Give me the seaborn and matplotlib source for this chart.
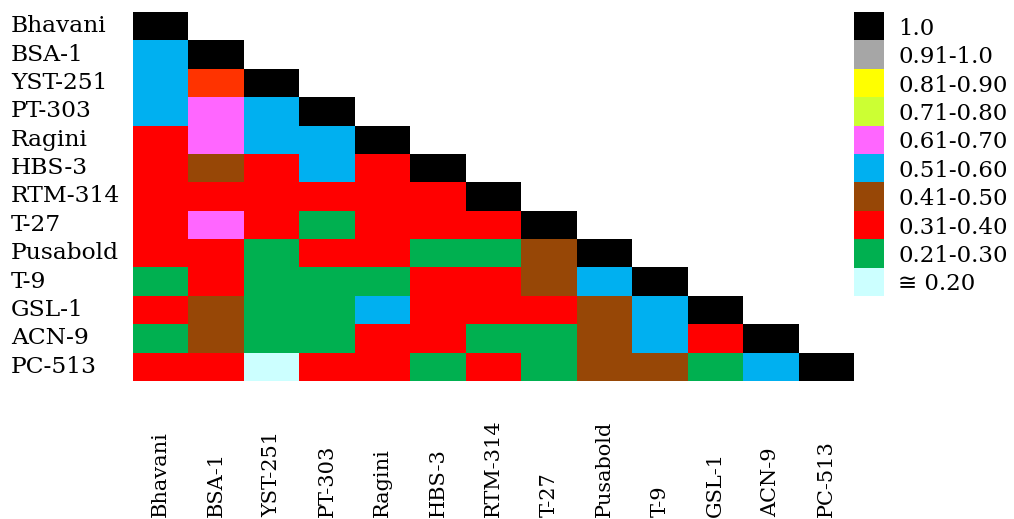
import numpy as np
import matplotlib
matplotlib.use("Agg")
import matplotlib.pyplot as plt
from matplotlib.colors import ListedColormap
import seaborn as sns

sns.set_style("white")
plt.rcParams["font.family"] = ["DejaVu Serif", "DejaVu Sans"]
plt.rcParams["text.color"] = "black"
plt.rcParams["xtick.color"] = "black"
plt.rcParams["ytick.color"] = "black"

# Genotypes (rows and columns of the similarity matrix)
genotypes = ["Bhavani", "BSA-1", "YST-251", "PT-303", "Ragini", "HBS-3", "RTM-314",
             "T-27", "Pusabold", "T-9", "GSL-1", "ACN-9", "PC-513"]

# Similarity classes shown in the key (top to bottom)
class_labels = ["1.0", "0.91-1.0", "0.81-0.90", "0.71-0.80", "0.61-0.70",
                "0.51-0.60", "0.41-0.50", "0.31-0.40", "0.21-0.30", "\u2245 0.20"]
class_colors = ["#000000", "#A6A6A6", "#FFFF00", "#CCFF33", "#FF66FF",
                "#00B0F0", "#974706", "#FF0000", "#00B050", "#CCFFFF"]
# extra shade used for one 0.31-0.40 pair
extra_colors = ["#FF3300"]

# Lower triangle, class index per pair (row genotype vs column genotype)
row_bhavani  = [0]
row_bsa1     = [5, 0]
row_yst251   = [5, 10, 0]
row_pt303    = [5, 4, 5, 0]
row_ragini   = [7, 4, 5, 5, 0]
row_hbs3     = [7, 6, 7, 5, 7, 0]
row_rtm314   = [7, 7, 7, 7, 7, 7, 0]
row_t27      = [7, 4, 7, 8, 7, 7, 7, 0]
row_pusabold = [7, 7, 8, 7, 7, 8, 8, 6, 0]
row_t9       = [8, 7, 8, 8, 8, 7, 7, 6, 5, 0]
row_gsl1     = [7, 6, 8, 8, 5, 7, 7, 7, 6, 5, 0]
row_acn9     = [8, 6, 8, 8, 7, 7, 8, 8, 6, 5, 7, 0]
row_pc513    = [7, 7, 9, 7, 7, 8, 7, 8, 6, 6, 8, 5, 0]

rows = [row_bhavani, row_bsa1, row_yst251, row_pt303, row_ragini, row_hbs3,
        row_rtm314, row_t27, row_pusabold, row_t9, row_gsl1, row_acn9, row_pc513]

n = len(genotypes)
mat = np.full((n, n), np.nan)
for i, r in enumerate(rows):
    mat[i, :len(r)] = r
mask = np.isnan(mat)

all_colors = class_colors + extra_colors
cmap = ListedColormap(all_colors)

W, H = 1014, 519
fig = plt.figure(figsize=(W / 100, H / 100), dpi=100)

ax = fig.add_axes([133 / W, 1 - 381 / H, 721 / W, 369 / H])
sns.heatmap(mat, mask=mask, cmap=cmap, vmin=-0.5, vmax=len(all_colors) - 0.5,
            cbar=False, square=False, ax=ax, xticklabels=genotypes,
            yticklabels=genotypes)
ax.set_xlim(0, n)
ax.set_ylim(n, 0)

ax.set_yticklabels(genotypes, rotation=0, ha="left", fontsize=16.8, color="black")
ax.tick_params(axis="y", length=0, pad=(133 - 11) * 0.72)
ax.set_xticklabels(genotypes, rotation=90, va="bottom", ha="center", fontsize=15,
                   color="black")
ax.tick_params(axis="x", length=0, pad=(517 - 381) * 0.72)
for s in ax.spines.values():
    s.set_visible(False)

# Colour key as a one-column heatmap
kax = fig.add_axes([854 / W, 1 - 296 / H, 30 / W, 284 / H])
key = np.arange(len(class_labels)).reshape(-1, 1)
sns.heatmap(key, cmap=ListedColormap(class_colors), vmin=-0.5,
            vmax=len(class_labels) - 0.5, cbar=False, ax=kax,
            xticklabels=False, yticklabels=class_labels)
kax.yaxis.tick_right()
kax.set_yticklabels(class_labels, rotation=0, ha="left", fontsize=16.5, color="black")
kax.tick_params(axis="y", length=0, pad=(898 - 884) * 0.72)
for s in kax.spines.values():
    s.set_visible(False)

fig.savefig("out.png", dpi=100, facecolor="white")
